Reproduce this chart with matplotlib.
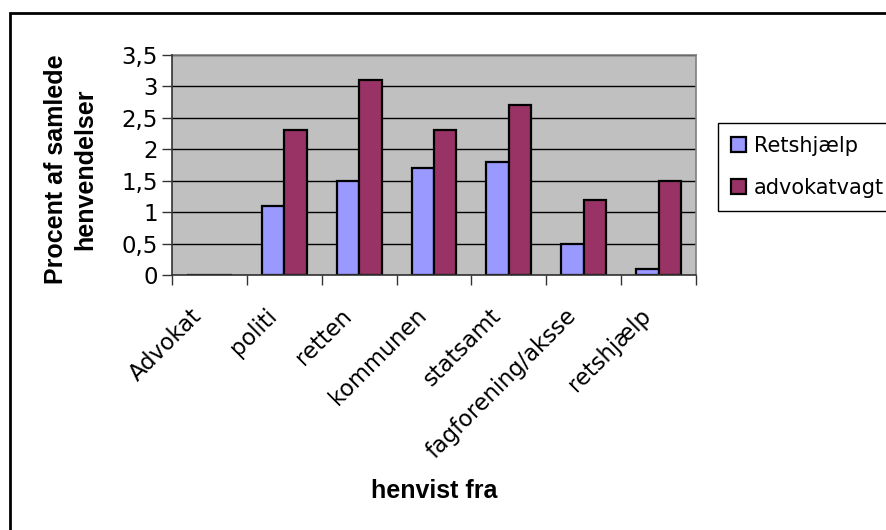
import matplotlib
matplotlib.use("Agg")
import matplotlib.pyplot as plt
import numpy as np
from matplotlib.patches import Rectangle
from matplotlib.transforms import ScaledTranslation

categories = ["Advokat", "politi", "retten", "kommunen", "statsamt", "fagforening/aksse", "retshjælp"]
retshjaelp = [0, 1.1, 1.5, 1.7, 1.8, 0.5, 0.1]
advokatvagt = [0, 2.3, 3.1, 2.3, 2.7, 1.2, 1.5]
yticks = [0, 0.5, 1, 1.5, 2, 2.5, 3, 3.5]
ytick_labels = ["0", "0,5", "1", "1,5", "2", "2,5", "3", "3,5"]

plt.rcParams['font.family'] = ['DejaVu Sans']

W, H = 886, 530
fig = plt.figure(figsize=(W / 100, H / 100), dpi=100)
fig.patch.set_facecolor("white")

# outer chart border (only left and top visible)
fig.patches.append(Rectangle((10 / W, -0.1), 1.2, (H - 13) / H + 0.1, transform=fig.transFigure,
                             fill=False, edgecolor="black", linewidth=2, zorder=0))

ax = fig.add_axes([172 / W, 1 - 275 / H, 524 / W, 220 / H])
ax.set_facecolor("#C0C0C0")

x = np.arange(len(categories))
bw = 0.3
ax.bar(x - bw / 2, retshjaelp, bw, color="#9999FF", edgecolor="black", linewidth=1.6,
       label="Retshjælp", zorder=2)
ax.bar(x + bw / 2, advokatvagt, bw, color="#993366", edgecolor="black", linewidth=1.6,
       label="advokatvagt", zorder=2)

ax.set_xlim(-0.5, len(categories) - 0.5)
ax.set_ylim(0, 3.5)
ax.set_yticks(yticks)
ax.set_yticklabels(ytick_labels, fontsize=16.5)
ax.yaxis.grid(True, color="black", linewidth=1, zorder=1)
ax.set_axisbelow(True)

ax.set_xticks(np.arange(len(categories) + 1) - 0.5)
ax.set_xticklabels([])
ax.set_xticks(x, minor=True)
ax.set_xticklabels(categories, minor=True, rotation=45, ha="right", va="top",
                   rotation_mode="anchor", fontsize=16.3)
ax.tick_params(axis="x", which="minor", length=0, pad=21)
ax.tick_params(axis="x", which="major", length=7, width=1, direction="out", color="#333333")
ax.tick_params(axis="y", length=7, width=1, direction="out", color="#333333", pad=3)
shift = ScaledTranslation(-19 / 100, 0, fig.dpi_scale_trans)
for lbl in ax.get_xticklabels(minor=True):
    lbl.set_transform(lbl.get_transform() + shift)

for s in ["left", "bottom"]:
    ax.spines[s].set_color("#333333")
    ax.spines[s].set_linewidth(1.2)
    ax.spines[s].set_zorder(3)
for s in ["top", "right"]:
    ax.spines[s].set_color("#808080")
    ax.spines[s].set_linewidth(1.2)

fig.text(0.5 * (172 + 696) / W, 1 - 491 / H, "henvist fra", fontsize=18, fontweight="bold",
         ha="center", va="center", family=["Liberation Sans", "DejaVu Sans"])
fig.text(71 / W, 1 - 169 / H, "Procent af samlede\nhenvendelser", fontsize=18, fontweight="bold",
         rotation=90, ha="center", va="center", linespacing=1.28,
         family=["Liberation Sans", "DejaVu Sans"])

leg = fig.legend(loc="upper left", bbox_to_anchor=(718 / W, 1 - 123 / H), fontsize=15,
                 frameon=True, fancybox=False, edgecolor="black", framealpha=1,
                 handlelength=0.7, handleheight=0.7, handletextpad=0.4,
                 borderpad=0.62, labelspacing=1.05, borderaxespad=0)
leg.get_frame().set_linewidth(1)

fig.savefig("out.png", dpi=100)
